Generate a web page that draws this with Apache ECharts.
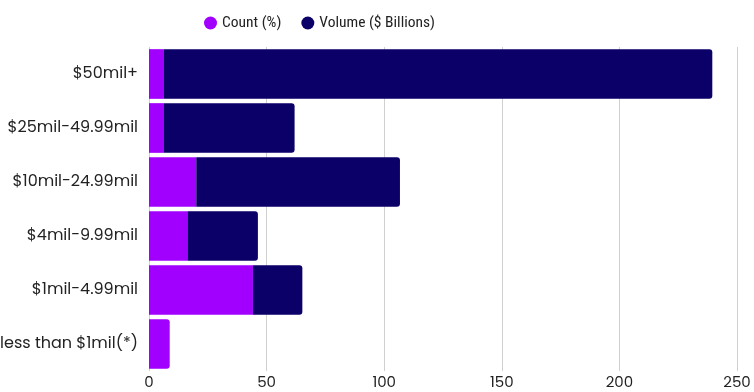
<!DOCTYPE html>
<html>
<head>
<meta charset="utf-8">
<script src="https://cdn.jsdelivr.net/npm/echarts@6/dist/echarts.min.js"></script>
<style>html,body{margin:0;padding:0;background:#fff;}#c{width:754px;height:392px;}</style>
</head>
<body>
<div id="c"></div>
<script>
const categories = ["$50mil+", "$25mil-49.99mil", "$10mil-24.99mil", "$4mil-9.99mil", "$1mil-4.99mil", "less than $1mil(*)"];
const countValues = [6.1, 6.1, 20.1, 16.3, 44.2, 8.8];
const volumeValues = [233.4, 55.8, 86.6, 30.0, 21.0, 0];
const xTicks = [0, 50, 100, 150, 200, 250];

const font = "Poppins, Inter, 'Noto Sans', sans-serif";
const chart = echarts.init(document.getElementById('c'));
chart.setOption({
  animation: false,
  legend: {
    top: 10, left: 199,
    icon: 'circle', itemWidth: 13, itemHeight: 14, itemGap: 20,
    textStyle: { fontFamily: "'Liberation Sans Narrow', 'Roboto Condensed', Roboto, sans-serif", fontSize: 15.5, color: '#222' },
    data: ['Count (%)', 'Volume ($ Billions)']
  },
  grid: { left: 149, right: 17, top: 47, bottom: 21, containLabel: false, outerBoundsMode: 'none' },
  xAxis: {
    type: 'value', min: xTicks[0], max: xTicks[xTicks.length - 1], interval: 50,
    axisLine: { show: false }, axisTick: { show: false },
    splitLine: { lineStyle: { color: '#d0d0d0', width: 1 } },
    axisLabel: { fontFamily: font, fontSize: 15, color: '#222', margin: 5 }
  },
  yAxis: {
    type: 'category', data: categories, inverse: true,
    axisLine: { show: false }, axisTick: { show: false },
    axisLabel: { fontFamily: font, fontSize: 16, color: '#222', margin: 11 }
  },
  series: [
    {
      name: 'Count (%)', type: 'bar', stack: 't', barCategoryGap: '8%',
      itemStyle: { color: '#A100FF' },
      data: countValues.map((v, i) => volumeValues[i] === 0
        ? { value: v, itemStyle: { borderRadius: [0, 3, 3, 0] } } : v)
    },
    {
      name: 'Volume ($ Billions)', type: 'bar', stack: 't', barCategoryGap: '8%',
      itemStyle: { color: '#0B0068', borderRadius: [0, 3, 3, 0] },
      data: volumeValues
    }
  ]
});
</script>
</body>
</html>
